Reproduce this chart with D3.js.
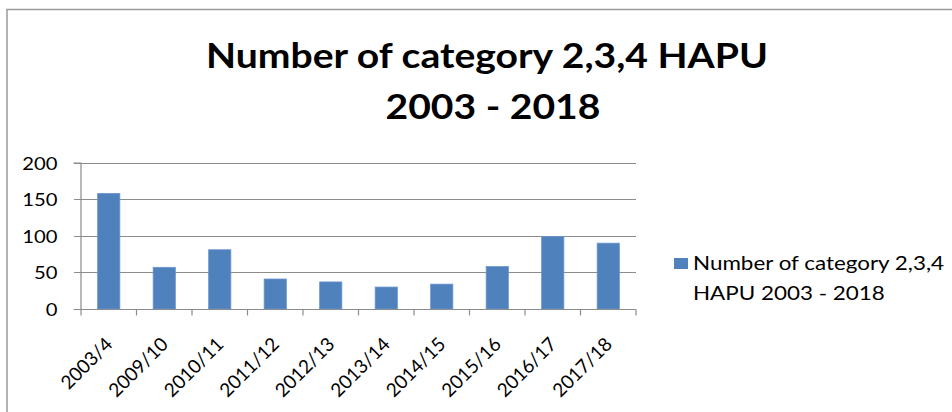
<!DOCTYPE html>
<html>
<head>
<meta charset="utf-8">
<script src="https://cdn.jsdelivr.net/npm/d3@7/dist/d3.min.js"></script>
<style>
  html, body { margin: 0; padding: 0; background: #fff; }
  svg { display: block; }
  text { font-family: Lato, "Open Sans", sans-serif; fill: #000; }
</style>
</head>
<body>
<svg id="chart" width="952" height="412"></svg>
<script>
// Financial years and counts of category 2, 3 and 4 hospital-acquired pressure ulcers
const years = ["2003/4", "2009/10", "2010/11", "2011/12", "2012/13", "2013/14", "2014/15", "2015/16", "2016/17", "2017/18"];
const counts = [158, 57, 81, 41, 37, 30, 34, 58, 99, 90];
const yTicks = [0, 50, 100, 150, 200];
const titleLines = ["Number of category 2,3,4 HAPU", "2003 - 2018"];
const seriesName = ["Number of category 2,3,4", "HAPU 2003 - 2018"];

const svg = d3.select("#chart");
const W = 952, H = 412;
const plot = { left: 81, right: 636, top: 162.7, bottom: 309 };
const gridColor = "#8c8c8c";
const barColor = "#4f81bd";
const stretch = "scale(1.15,1)"; // text is set slightly wide

// chart area border (top and left edges visible)
svg.append("path")
  .attr("d", `M7,${H} L7,9.5 L${W},9.5`)
  .attr("fill", "none")
  .attr("stroke", "#9a9a9a")
  .attr("stroke-width", 1.5);

// title
titleLines.forEach((line, i) => {
  svg.append("text")
    .attr("text-anchor", "middle")
    .attr("transform", `translate(${487 + i * 6},${68 + i * 51}) ${stretch}`)
    .style("font-weight", "bold")
    .style("font-size", "34px")
    .text(line);
});

const x = d3.scaleBand().domain(years).range([plot.left, plot.right]).paddingInner(0.6).paddingOuter(0.3);
const y = d3.scaleLinear().domain([0, 200]).range([plot.bottom, plot.top]);

// horizontal gridlines
svg.append("g").selectAll("line").data(yTicks).join("line")
  .attr("x1", plot.left - 7).attr("x2", plot.right)
  .attr("y1", d => Math.round(y(d)) + 0.5).attr("y2", d => Math.round(y(d)) + 0.5)
  .attr("stroke", gridColor).attr("stroke-width", 1.2);

// y axis
const yAxis = svg.append("g")
  .attr("transform", `translate(${plot.left - 0.5},0)`)
  .call(d3.axisLeft(y).tickValues(yTicks).tickSize(7).tickPadding(16));
yAxis.select(".domain").attr("stroke", gridColor).attr("stroke-width", 1.2);
yAxis.selectAll(".tick line").attr("stroke", "none");
yAxis.selectAll(".tick text")
  .attr("x", 0)
  .attr("dy", "0.36em")
  .attr("transform", `translate(-23,0) ${stretch}`)
  .style("font-size", "17.6px")
  .style("font-family", "Lato, 'Open Sans', sans-serif");

// bars
svg.append("g").selectAll("rect").data(counts).join("rect")
  .attr("x", (d, i) => x(years[i]))
  .attr("width", x.bandwidth())
  .attr("y", d => y(d))
  .attr("height", d => y(0) - y(d))
  .attr("fill", barColor)
  .attr("stroke", "#6b96cc")
  .attr("stroke-width", 0.8);

// x axis with ticks on category boundaries
const xAxisG = svg.append("g").attr("transform", `translate(0,${Math.round(plot.bottom) + 0.5})`);
xAxisG.append("line")
  .attr("x1", plot.left - 7).attr("x2", plot.right)
  .attr("stroke", gridColor).attr("stroke-width", 1.2);
const step = x.step();
const boundaries = d3.range(years.length + 1).map(i => plot.left + i * step);
xAxisG.selectAll("line.tk").data(boundaries).join("line")
  .attr("class", "tk")
  .attr("x1", d => d).attr("x2", d => d)
  .attr("y1", 0).attr("y2", 6)
  .attr("stroke", gridColor).attr("stroke-width", 1.2);
xAxisG.selectAll("text").data(years).join("text")
  .attr("text-anchor", "end")
  .attr("transform", d => `translate(${x(d) + x.bandwidth() / 2 + 5},${36}) rotate(-45)`)
  .style("font-size", "19px")
  .text(d => d);

// legend
const lg = svg.append("g");
lg.append("rect")
  .attr("x", 674).attr("y", 258).attr("width", 14).attr("height", 11)
  .attr("fill", barColor);
seriesName.forEach((line, i) => {
  lg.append("text")
    .attr("transform", `translate(693,${269.5 + i * 30}) ${stretch}`)
    .style("font-size", "19.5px")
    .text(line);
});
</script>
</body>
</html>
